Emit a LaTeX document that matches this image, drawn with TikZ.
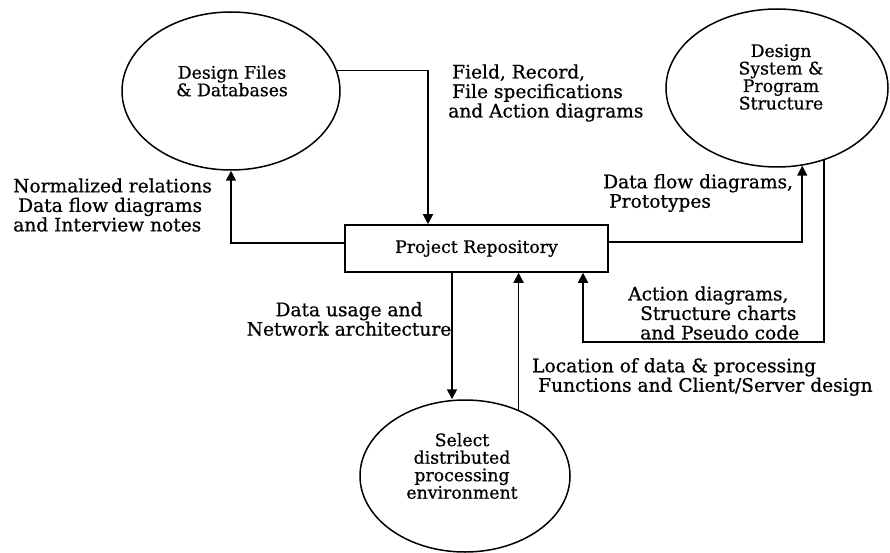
\documentclass[tikz,border=0pt]{standalone}
\usepackage{fontspec}
\setmainfont{DejaVu Serif}[FakeBold=0.7]
\usetikzlibrary{arrows.meta,shapes.geometric}
\tikzset{
  ell/.style={draw, ellipse, line width=1.5pt, inner sep=0pt},
  repo/.style={draw, rectangle, line width=1.5pt, inner sep=0pt, minimum width=263pt, minimum height=47pt, font=\fontsize{17.3}{19}\selectfont},
  etext/.style={align=center, inner sep=0pt, font=\fontsize{17.3}{17.5}\selectfont},
  lab/.style={align=left, inner sep=0pt, anchor=west, font=\fontsize{18.6}{19.5}\selectfont},
  arr/.style={line width=1.6pt, -{Triangle[length=10pt,width=10pt]}},
}
\begin{document}
\begin{tikzpicture}[x=1pt,y=-1pt]
\useasboundingbox (0,0) rectangle (890,553);
% nodes
\node[ell, minimum width=218pt, minimum height=158pt] (e1) at (231,91) {};
\node[etext] (e1t) at (232,81) {Design Files\\\& Databases};
\node[ell, minimum width=222pt, minimum height=158pt] (e2) at (777,88) {};
\node[etext] (e2t) at (781,77) {Design\\System \&\\Program\\Structure};
\node[ell, minimum width=210pt, minimum height=152pt] (e3) at (465,476) {};
\node[etext] (e3t) at (462,466) {Select\\distributed\\processing\\environment};
\node[repo] (box) at (476.5,248.5) {Project Repository};
% connectors
\draw[arr] (e1.11.3) -| ([xshift=-48.5pt]box.north);
\draw[arr] ([yshift=5.5pt]box.west) -| (e1.south);
\draw[arr] ([yshift=6.5pt]box.east) -| (e2.-72);
\coordinate (turn) at (583,342);
\draw[arr] (e2.-57.4) |- (turn) -- (turn |- box.south);
\draw[arr] ([xshift=-24.5pt]box.south) -- ([xshift=-24.5pt]box.south |- e3.north);
\draw[arr] (e3.51) -- (e3.51 |- box.south);
% labels
\node[lab] (l1) at (448,93) {\hspace*{4pt}Field, Record,\\\hspace*{4pt}File specifications\\and Action diagrams};
\node[lab] (l2) at (13,205) {Normalized relations\\\hspace*{5pt}Data flow diagrams\\and Interview notes};
\node[lab] (l3) at (603,193) {Data flow diagrams,\\\hspace*{6pt}Prototypes};
\node[lab] (l4) at (628,313) {Action diagrams,\\\hspace*{12pt}Structure charts\\\hspace*{12pt}and Pseudo code};
\node[lab, align=center, anchor=center] (l5) at (349,319) {Data usage and\\Network architecture};
\node[lab] (l6) at (532,377) {Location of data \& processing\\\hspace*{6pt}Functions and Client/Server design};
\end{tikzpicture}
\end{document}
